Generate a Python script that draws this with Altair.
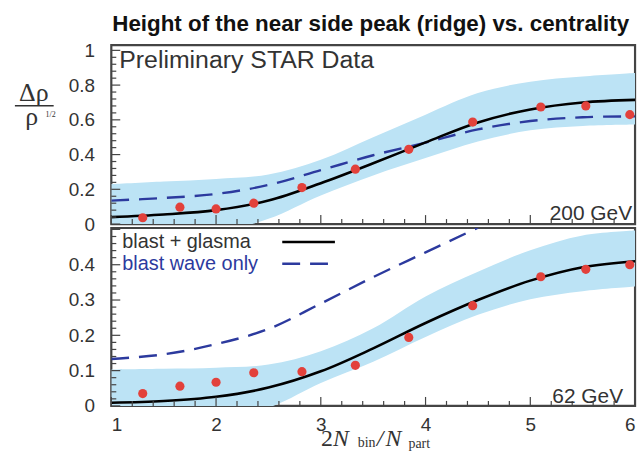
import altair as alt
import numpy as np
import pandas as pd

# ---------------- data ----------------
x_grid = [1.0, 1.5, 2.0, 2.5, 3.0, 3.5, 4.0, 4.5, 5.0, 5.5, 6.0]

# 200 GeV panel
top_solid = [0.04, 0.055, 0.08, 0.135, 0.235, 0.35, 0.47, 0.585, 0.66, 0.70, 0.715]
top_dashed = [0.135, 0.15, 0.173, 0.225, 0.31, 0.396, 0.469, 0.545, 0.593, 0.615, 0.62]
top_band_lo = [-0.12, -0.09, -0.05, 0.03, 0.165, 0.28, 0.38, 0.475, 0.54, 0.565, 0.573]
top_band_hi = [0.23, 0.245, 0.26, 0.285, 0.37, 0.50, 0.63, 0.754, 0.82, 0.85, 0.87]

# 62 GeV panel
bot_solid = [0.009, 0.014, 0.026, 0.052, 0.098, 0.163, 0.235, 0.30, 0.355, 0.393, 0.41]
bot_dashed_x = [1.0, 1.5, 2.0, 2.5, 3.0, 3.5, 4.0, 4.5]
bot_dashed = [0.133, 0.146, 0.175, 0.218, 0.29, 0.365, 0.435, 0.505]
bot_band_lo = [-0.06, -0.05, -0.035, -0.005, 0.065, 0.125, 0.195, 0.258, 0.302, 0.325, 0.338]
bot_band_hi = [0.103, 0.105, 0.108, 0.117, 0.155, 0.22, 0.31, 0.38, 0.441, 0.483, 0.497]

# data points (Preliminary STAR)
data_x = [1.30, 1.655, 2.0, 2.36, 2.82, 3.33, 3.84, 4.45, 5.10, 5.53, 5.95]
data_200 = [0.036, 0.097, 0.087, 0.12, 0.21, 0.316, 0.43, 0.587, 0.674, 0.68, 0.63]
data_62 = [0.035, 0.056, 0.067, 0.094, 0.097, 0.115, 0.194, 0.284, 0.366, 0.387, 0.40]

# tick values / labels
x_major = [1, 2, 3, 4, 5, 6]
x_minor = [round(v, 2) for v in np.arange(1.2, 6.0, 0.2) if abs(v - round(v)) > 1e-6]
top_y_labels = [0, 0.2, 0.4, 0.6, 0.8, 1]
top_y_major = [0, 0.2, 0.4, 0.6, 0.8, 1]
top_y_minor = [round(v, 2) for v in np.arange(0.04, 1.0, 0.04) if abs(v / 0.2 - round(v / 0.2)) > 1e-6]
bot_y_labels = [0, 0.1, 0.2, 0.3, 0.4]
bot_y_major = [0, 0.1, 0.2, 0.3, 0.4, 0.5]
bot_y_minor = [round(v, 2) for v in np.arange(0.02, 0.5, 0.02) if abs(v / 0.1 - round(v / 0.1)) > 1e-6]

# ---------------- styling ----------------
FONT = "Liberation Sans"
SERIF = "Liberation Serif"
BAND = "#bce3f5"
BLUE = "#2c3a9e"
RED = "#e2413b"
FRAME = "#444444"
LABEL = "#333333"
W = 527
H_TOP = 180
H_BOT = 179
INTERP = "catmull-rom"

xs = alt.Scale(domain=[1, 6], nice=False, zero=False)


def text(df_text, x, y, size, color=LABEL, align="left", font=FONT, weight="normal",
         style="normal", baseline="alphabetic"):
    return alt.Chart(pd.DataFrame({"t": [df_text]})).mark_text(
        font=font, fontSize=size, color=color, align=align, baseline=baseline,
        fontWeight=weight, fontStyle=style
    ).encode(text="t:N", x=alt.value(x), y=alt.value(y))


def panel(band_lo, band_hi, solid, dx, dashed, pts, y_domain, y_labels, y_major, y_minor,
          height, show_x, extra):
    ys = alt.Scale(domain=y_domain, nice=False, zero=False)
    curves = pd.DataFrame({"x": x_grid, "lo": band_lo, "hi": band_hi, "solid": solid})
    dashed_df = pd.DataFrame({"x": dx, "y": dashed})
    pts_df = pd.DataFrame({"x": data_x, "y": pts})

    if show_x:
        xaxis = alt.Axis(values=x_major, format="d", title=None, grid=False, ticks=False,
                         domain=False, labelFontSize=19, labelFont=FONT, labelColor=LABEL,
                         labelPadding=10, tickSize=0)
    else:
        xaxis = None
    yaxis = alt.Axis(values=y_labels, format="~g", title=None, grid=False, ticks=False,
                     domain=False, labelFontSize=19, labelFont=FONT, labelColor=LABEL,
                     labelPadding=17, tickSize=0)

    def X(field):
        return alt.X(field, scale=xs, axis=xaxis)

    def Y(field):
        return alt.Y(field, scale=ys, axis=yaxis)

    band = alt.Chart(curves).mark_area(color=BAND, clip=True, interpolate=INTERP).encode(
        x=X("x:Q"), y=Y("lo:Q"), y2="hi:Q",
    )
    dash_line = alt.Chart(dashed_df).mark_line(
        color=BLUE, strokeWidth=2.4, strokeDash=[18, 10], interpolate=INTERP, clip=True
    ).encode(x=X("x:Q"), y=Y("y:Q"))
    solid_line = alt.Chart(curves).mark_line(
        color="black", strokeWidth=2.6, interpolate=INTERP, clip=True
    ).encode(x=X("x:Q"), y=Y("solid:Q"))
    points = alt.Chart(pts_df).mark_circle(color=RED, size=85, opacity=1).encode(
        x=X("x:Q"), y=Y("y:Q"))

    def yt(vals, length):
        return alt.Chart(pd.DataFrame({"v": vals})).mark_rule(color=FRAME, strokeWidth=1.2).encode(
            y=Y("v:Q"), x=alt.value(0), x2=alt.value(length))

    def xt(vals, length):
        return alt.Chart(pd.DataFrame({"v": vals})).mark_rule(color=FRAME, strokeWidth=1.2).encode(
            x=X("v:Q"), y=alt.value(height), y2=alt.value(height - length))

    layers = [band, dash_line, solid_line, points,
              yt(y_major, 9), yt(y_minor, 5), xt(x_major, 9), xt(x_minor, 5)] + extra
    return alt.layer(*layers).properties(width=W, height=height)


def anchor(y):
    return alt.Chart(pd.DataFrame({"a": [0]})).mark_rule(opacity=0, strokeWidth=0.01).encode(
        x=alt.value(-110), x2=alt.value(533), y=alt.value(y))


top_extra = [
    text("Height of the near side peak (ridge) vs. centrality", 261, -14, 22.5,
         color="#111111", align="center", weight="bold"),
    text("Preliminary STAR Data", 8, 23, 25),
    text("200 GeV", 524, 176, 21, align="right"),
    # y-axis title as a fraction
    text("Δρ", -78, 56, 26, align="center", font=SERIF),
    alt.Chart(pd.DataFrame({"a": [0]})).mark_rule(color=LABEL, strokeWidth=1.5).encode(
        x=alt.value(-97), x2=alt.value(-58), y=alt.value(61)),
    text("ρ", -80, 80, 26, align="center", font=SERIF),
    text("1/2", -61, 72, 8, align="center", font=SERIF),
    anchor(-42),
]

bot_extra = [
    text("62 GeV", 515, 176, 21, align="right"),
    text("blast + glasma", 11, 20, 20),
    text("blast wave only", 11, 42, 20, color=BLUE),
    alt.Chart(pd.DataFrame({"a": [0]})).mark_rule(color="black", strokeWidth=2.6).encode(
        x=alt.value(172), x2=alt.value(225), y=alt.value(14)),
    alt.Chart(pd.DataFrame({"a": [0]})).mark_rule(color=BLUE, strokeWidth=2.4, strokeDash=[18, 10]).encode(
        x=alt.value(172), x2=alt.value(225), y=alt.value(36)),
    # x-axis title 2N_bin/N_part
    text("2", 211, 219, 24, font=SERIF),
    text("N", 223, 219, 24, font=SERIF, style="italic"),
    text("bin", 248, 220, 14, font=SERIF),
    text("/", 267, 219, 24, font=SERIF, style="italic"),
    text("N", 276, 219, 24, font=SERIF, style="italic"),
    text("part", 299, 221, 14, font=SERIF),
    anchor(232),
]

top = panel(top_band_lo, top_band_hi, top_solid, x_grid, top_dashed, data_200,
            [0, 1.03], top_y_labels, top_y_major, top_y_minor, H_TOP, False, top_extra)
bot = panel(bot_band_lo, bot_band_hi, bot_solid, bot_dashed_x, bot_dashed, data_62,
            [0, 0.504], bot_y_labels, bot_y_major, bot_y_minor, H_BOT, True, bot_extra)

chart = alt.vconcat(top, bot, spacing=4, bounds="flush").properties(
    padding=0, background="white"
).configure_view(stroke=FRAME, strokeWidth=2.2)

chart.save("out.html", embed_options={"renderer": "svg", "actions": False})
